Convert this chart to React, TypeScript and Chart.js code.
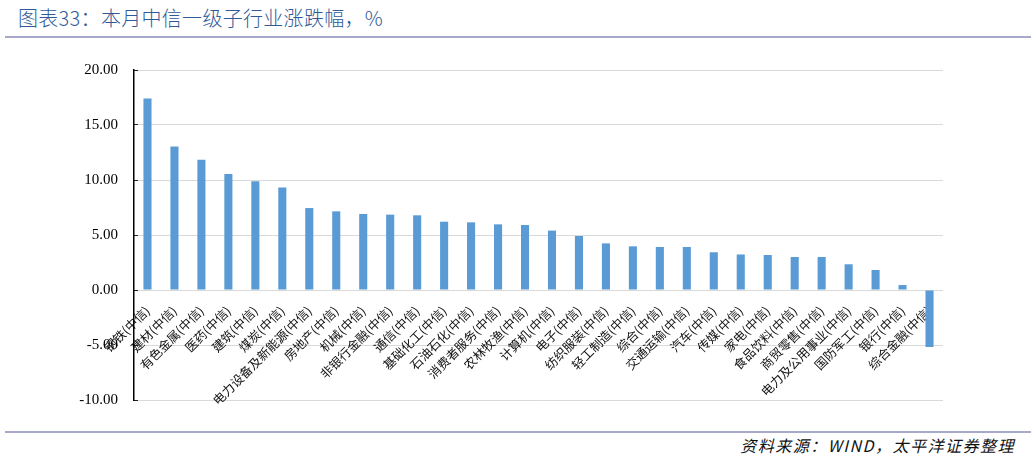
import React, { useEffect, useRef } from "react";
import Chart from "chart.js/auto";

// 中信一级行业，本月涨跌幅（%）
const industries = [
  "钢铁", "建材", "有色金属", "医药", "建筑", "煤炭", "电力设备及新能源", "房地产",
  "机械", "非银行金融", "通信", "基础化工", "石油石化", "消费者服务", "农林牧渔",
  "计算机", "电子", "纺织服装", "轻工制造", "综合", "交通运输", "汽车", "传媒",
  "家电", "食品饮料", "商贸零售", "电力及公用事业", "国防军工", "银行", "综合金融",
];
const categories = industries.map((n) => `${n}(中信)`);
const changes = [
  17.4, 13.04, 11.85, 10.55, 9.88, 9.31, 7.45, 7.15, 6.91, 6.85, 6.79, 6.21, 6.15,
  5.97, 5.91, 5.4, 4.91, 4.24, 3.97, 3.91, 3.91, 3.43, 3.23, 3.18, 3.0, 3.0, 2.34,
  1.82, 0.45, -5.18,
];
const yMin = -10;
const yMax = 20;
const yStep = 5;

const BAR = "#5B9BD5";
const GRID = "#D9D9D9";
const RULE = "#A7A9C9";
const TITLE = "#2F5A97";

export default function App() {
  const canvasRef = useRef<HTMLCanvasElement | null>(null);

  useEffect(() => {
    const ctx = canvasRef.current?.getContext("2d");
    if (!ctx) return;

    const chart = new Chart(ctx, {
      type: "bar",
      data: {
        labels: categories,
        datasets: [
          {
            data: changes,
            backgroundColor: BAR,
            borderWidth: 0,
            barPercentage: 0.3,
            categoryPercentage: 1,
          },
        ],
      },
      options: {
        animation: false,
        responsive: false,
        layout: { padding: { left: 0, right: 88, top: 25, bottom: 25 } },
        plugins: { legend: { display: false }, tooltip: { enabled: false } },
        scales: {
          x: {
            position: { y: 0 } as any,
            grid: { display: false },
            border: { display: false },
            ticks: {
              autoSkip: false,
              minRotation: 45,
              maxRotation: 45,
              padding: 5,
              color: "#111",
              font: { family: "'Noto Sans CJK SC'", size: 12.5 },
            },
          },
          y: {
            min: yMin,
            max: yMax,
            afterFit: (s: any) => {
              // fixed axis width; let layout padding decide the vertical extent
              s.width = 134;
              s.paddingTop = 0;
              s.paddingBottom = 0;
            },
            grid: {
              color: GRID,
              lineWidth: 1,
              tickColor: "#222",
              tickLength: -4,
            },
            border: { display: true, color: "#000", width: 1.5 },
            ticks: {
              stepSize: yStep,
              padding: 20,
              color: "#000",
              font: { family: "'Liberation Serif'", size: 15 },
              callback: (v: any) => Number(v).toFixed(2),
            },
          },
        },
      },
    });

    return () => chart.destroy();
  }, []);

  return (
    <div
      style={{
        position: "fixed",
        left: 0,
        top: 0,
        width: 1031,
        height: 458,
        background: "#fff",
        overflow: "hidden",
      }}
    >
      <div
        style={{
          position: "absolute",
          left: 18,
          top: 3,
          fontFamily: "'Noto Sans CJK SC'",
          fontSize: 20,
          fontWeight: 300,
          letterSpacing: 0.3,
          color: TITLE,
          whiteSpace: "nowrap",
        }}
      >
        图表33：本月中信一级子行业涨跌幅，%
      </div>
      <div
        style={{
          position: "absolute",
          left: 5,
          right: 0,
          top: 36,
          height: 2,
          background: RULE,
        }}
      />
      <canvas
        ref={canvasRef}
        width={1031}
        height={380}
        style={{ position: "absolute", left: 0, top: 45, width: 1031, height: 380 }}
      />
      <div
        style={{
          position: "absolute",
          left: 5,
          right: 0,
          top: 431,
          height: 1.5,
          background: RULE,
        }}
      />
      <div
        style={{
          position: "absolute",
          right: 16,
          top: 433,
          fontFamily: "'Noto Sans CJK SC'",
          fontSize: 16,
          fontStyle: "italic",
          letterSpacing: 1.5,
          color: "#111",
          whiteSpace: "nowrap",
        }}
      >
        资料来源：WIND，太平洋证券整理
      </div>
    </div>
  );
}
